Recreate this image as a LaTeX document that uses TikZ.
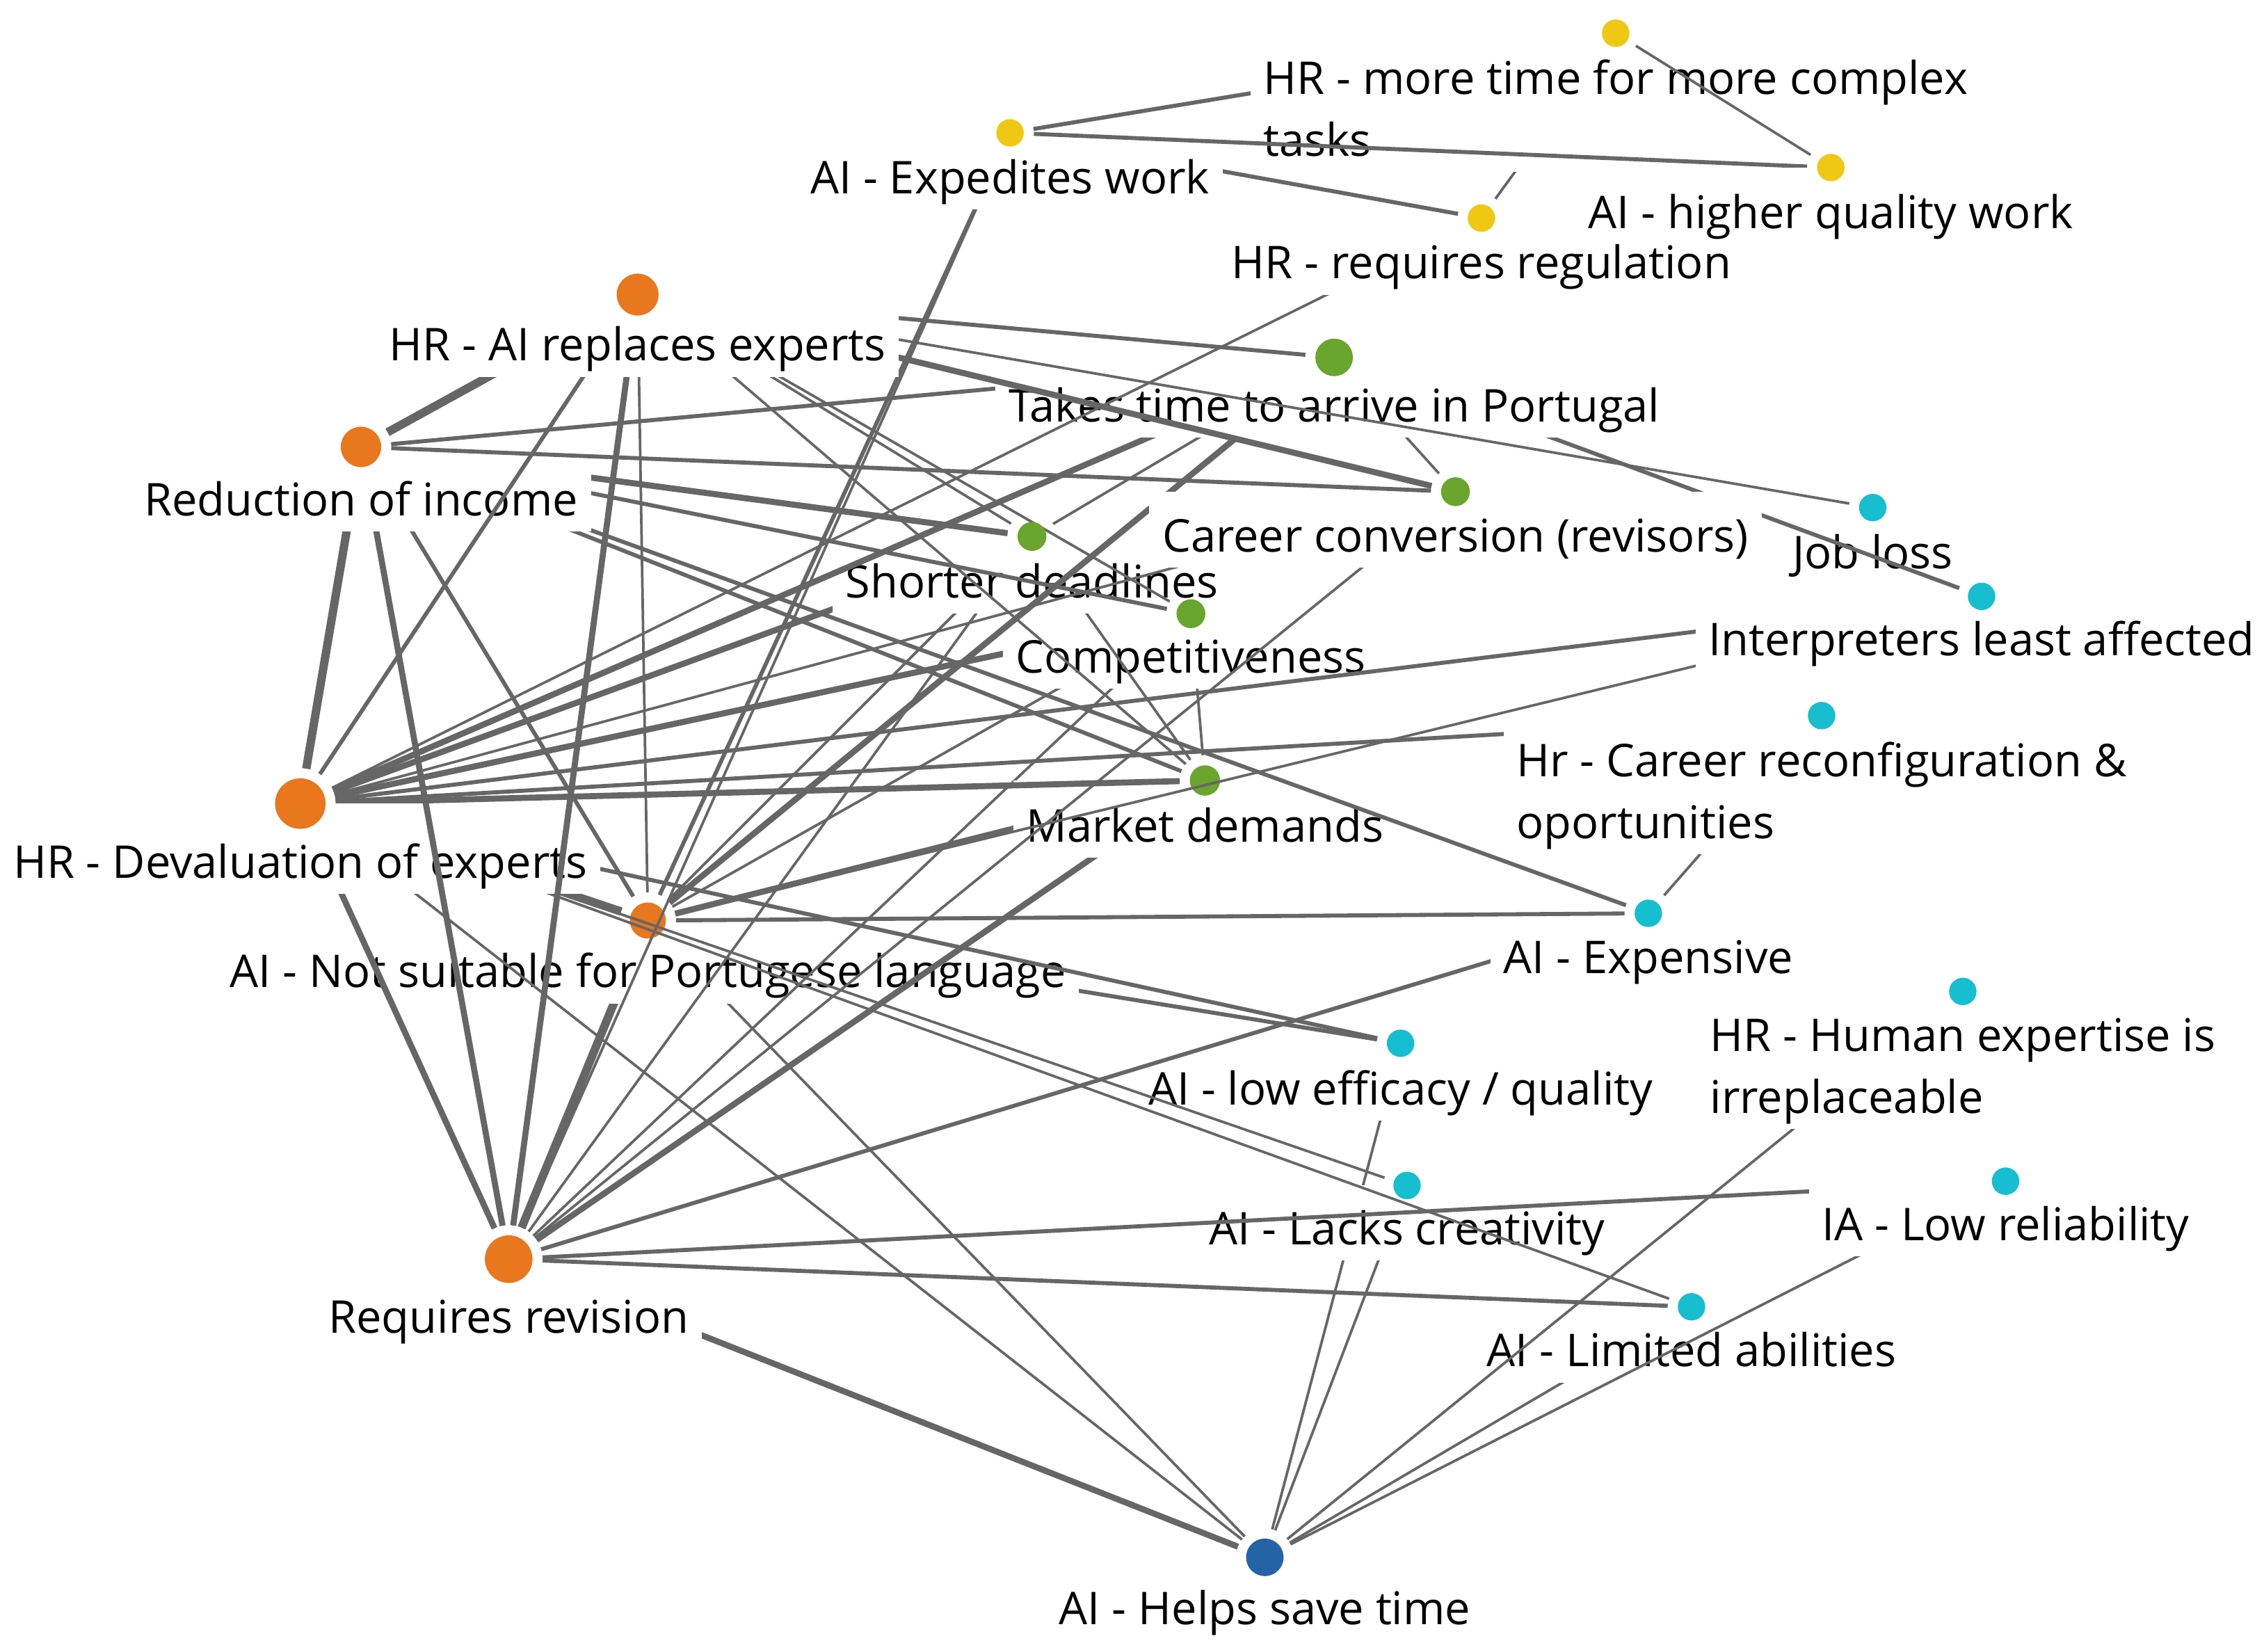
\documentclass[tikz,border=0pt]{standalone}
\usepackage{fontspec}
\setmainfont{Open Sans}
\definecolor{eg}{HTML}{666666}
\definecolor{cor}{HTML}{E8771E}
\definecolor{cgr}{HTML}{6AA52D}
\definecolor{cye}{HTML}{F0C814}
\definecolor{ccy}{HTML}{17BECF}
\definecolor{cbl}{HTML}{2463A5}
\newcommand\lblfont{\fontsize{8.9pt}{12.2pt}\selectfont}
\tikzset{
  nd/.style={circle, inner sep=0pt, outer sep=0.7mm, minimum size=#1},
  lnT/.style={draw=eg, line width=0.18mm},
  lnM/.style={draw=eg, line width=0.28mm},
  lnK/.style={draw=eg, line width=0.42mm},
  lnX/.style={draw=eg, line width=0.58mm},
  lbl/.style={fill=white, inner xsep=0.9mm, inner ysep=0pt, text height=#1, text depth=1.1mm, anchor=base, font=\lblfont},
  lblm/.style={fill=white, inner xsep=0.9mm, inner ysep=0pt, anchor=base, align=left, font=\lblfont}
}
\newcommand\dotY[1]{\fill[cye] (#1.center) circle[radius=0.95mm];}
\newcommand\dotG[2]{\fill[cgr] (#1.center) circle[radius=#2];}
\newcommand\dotO[2]{\fill[cor] (#1.center) circle[radius=#2];}
\newcommand\dotC[1]{\fill[ccy] (#1.center) circle[radius=0.95mm];}
\begin{document}
\begin{tikzpicture}[x=0.1mm,y=-0.1mm]
\fill[white] (0,0) rectangle (1568,1144);
\useasboundingbox (0,0) rectangle (1568,1144);
% node geometry
\node[nd=1.9mm] (Y1) at (699.5,92) {};
\node[nd=1.9mm] (Y2) at (1119,23) {};
\node[nd=1.9mm] (Y3) at (1268,116) {};
\node[nd=1.9mm] (Y4) at (1026,151) {};
\node[nd=2.6mm] (G1) at (924,247.5) {};
\node[nd=2.0mm] (G2) at (1008,340.5) {};
\node[nd=2.0mm] (G3) at (714.7,371.5) {};
\node[nd=2.0mm] (G4) at (824.8,425) {};
\node[nd=2.1mm] (G5) at (834.5,540.5) {};
\node[nd=2.9mm] (O1) at (441.6,204) {};
\node[nd=2.8mm] (O2) at (250,309.5) {};
\node[nd=3.5mm] (O3) at (208,556.5) {};
\node[nd=2.5mm] (O4) at (448.7,637.5) {};
\node[nd=3.3mm] (O5) at (352.3,872) {};
\node[nd=1.9mm] (C1) at (1297,351.5) {};
\node[nd=1.9mm] (C2) at (1372.4,413) {};
\node[nd=1.9mm] (C3) at (1261.6,495.6) {};
\node[nd=1.9mm] (C4) at (1141.6,632.5) {};
\node[nd=1.9mm] (C5) at (970,722.5) {};
\node[nd=1.9mm] (C6) at (1359.4,686.6) {};
\node[nd=1.9mm] (C7) at (974.5,821) {};
\node[nd=1.9mm] (C8) at (1389,818) {};
\node[nd=1.9mm] (C9) at (1171.5,905) {};
\node[nd=2.6mm] (B1) at (876,1078.5) {};
% ---- C1
\node[lbl=4.25mm] (C1l) at (1297,394) {Job loss};
% ---- under O4 label
\draw[lnX] (O4) -- (O5);
\draw[lnT] (O4) -- (B1);
\draw[lnM] (O4) -- (C5);
\draw[lnM] (Y1) -- (O4);
\draw[lnT] (O1) -- (O4);
\draw[lnX] (O3) -- (O4);
\draw[lnK] (O3) -- (G3);
\draw[lnK] (O3) -- (G4);
\node[lbl=4.65mm] (O4l) at (448.7,684) {AI - Not suitable for Portugese language}; \dotO{O4}{1.25mm}
% ---- under G4/G3/G5 labels
\draw[lnT] (O5) -- (G4);
\draw[lnT] (O5) -- (G3);
\draw[lnK] (O5) -- (G5);
\draw[lnT] (O4) -- (G4);
\draw[lnT] (O4) -- (G3);
\draw[lnK] (O4) -- (G5);
\draw[lnT] (G4) -- (G5);
\draw[lnT] (Y1) -- (O5);
\draw[lnK] (O3) -- (O5);
\draw[lnT] (O3) -- (B1);
\draw[lnM] (O3) -- (C5);
\node[lbl=4.1mm] (G4l) at (824.8,466) {Competitiveness};
\draw[lnT] (G3) -- (G5);
\node[lbl=4.25mm] (G3l) at (714.7,414) {Shorter deadlines};
\node[lbl=4.25mm] (G5l) at (834.5,583) {Market demands}; \dotG{G5}{1.05mm}
\draw[lnT] (C5) -- (B1);
\node[lbl=4.25mm] (C5l) at (970,765) {AI - low efficacy / quality};
% ---- middle layer
\draw[lnT] (O4) -- (C2);
\draw[lnT] (O5) -- (G2);
\draw[lnT] (O1) -- (G5);
\draw[lnK] (O4) -- (G1);
\draw[lnM] (O3) -- (C2);
\draw[lnM] (O3) -- (C3);
\draw[lnT] (C3) -- (C4);
\draw[lnM] (O5) -- (C4);
\draw[lnM] (O2) -- (C4);
\draw[lnT] (O3) -- (G2);
\draw[lnM] (O2) -- (G4);
\draw[lnK] (O3) -- (G5);
\node[lbl=4.1mm] (C2l) at (1372.4,454) {Interpreters least affected};
\node[lblm] (C3l) at (1261.6,580.5) {\rule{0pt}{4.35mm}Hr - Career reconfiguration \&\\oportunities\rule[-1.1mm]{0pt}{1.1mm}};
\node[lbl=4.15mm] (C4l) at (1141.6,674) {AI - Expensive};
\draw[lnM] (O4) -- (C4);
% ---- G1 group
\draw[lnM] (G1) -- (C2);
\draw[lnT] (G1) -- (G2);
\draw[lnK] (O3) -- (G1);
\draw[lnT] (G3) -- (G1);
\draw[lnM] (O2) -- (G1);
\node[lbl=4.45mm] (G1l) at (924,292) {Takes time to arrive in Portugal};
\draw[lnK] (O1) -- (G2);
\draw[lnT] (O1) -- (C1);
\draw[lnT] (Y4) -- (O3);
\node[lbl=4.15mm] (G2l) at (1008,382) {Career conversion (revisors)};
% ---- yellow group
\draw[lnM] (Y1) -- (Y2);
\draw[lnT] (Y2) -- (Y4);
\node[lblm] (Y2l) at (1119,108) {\rule{0pt}{4.2mm}HR - more time for more complex\\tasks\rule[-1.1mm]{0pt}{1.1mm}};
\draw[lnM] (Y1) -- (Y4);
\node[lbl=4.2mm] (Y4l) at (1026,193) {HR - requires regulation};
\node[lbl=4.2mm] (Y1l) at (699.5,134) {AI - Expedites work};
\draw[lnM] (Y1) -- (Y3);
\draw[lnT] (Y2) -- (Y3);
\node[lbl=4.2mm] (Y3l) at (1268,158) {AI - higher quality work};
% ---- cyan lower group
\draw[lnT] (C7) -- (B1);
\draw[lnT] (C9) -- (B1);
\node[lbl=4.1mm] (C7l) at (974.5,862) {AI - Lacks creativity};
\node[lbl=4.15mm] (C9l) at (1171.5,946.5) {AI - Limited abilities};
\draw[lnT] (O3) -- (C7);
\draw[lnT] (O3) -- (C9);
\draw[lnM] (O5) -- (C8);
\draw[lnT] (C6) -- (B1);
\draw[lnT] (C8) -- (B1);
\node[lblm] (C6l) at (1359.4,771) {\rule{0pt}{4.15mm}HR - Human expertise is\\irreplaceable\rule[-1.1mm]{0pt}{1.1mm}};
\node[lbl=4.3mm] (C8l) at (1389,859) {IA - Low reliability};
% ---- orange group
\node[lbl=5.15mm] (O3l) at (208,608) {HR - Devaluation of experts};
\draw[lnK] (O2) -- (O5);
\draw[lnK] (O1) -- (O5);
\draw[lnX] (O2) -- (O3);
\draw[lnM] (O2) -- (O4);
\draw[lnK] (O2) -- (G3);
\draw[lnM] (O2) -- (G5);
\node[lbl=4.75mm] (O2l) at (250,357) {Reduction of income};
\draw[lnM] (O2) -- (G2);
\draw[lnM] (O1) -- (O3);
\draw[lnX] (O1) -- (O2);
\draw[lnM] (O1) -- (G1);
\draw[lnT] (O1) -- (G3);
\draw[lnT] (O1) -- (G4);
\node[lbl=4.6mm] (O1l) at (441.6,250) {HR - AI replaces experts};
\draw[lnK] (O5) -- (B1);
\node[lbl=5.1mm] (O5l) at (352.3,923) {Requires revision};
\draw[lnM] (O5) -- (C9);
\node[lbl=4.65mm] (B1l) at (876,1125) {AI - Helps save time};
% ---- dots on top
\dotY{Y1} \dotY{Y2} \dotY{Y3} \dotY{Y4}
\dotG{G1}{1.3mm} \dotG{G2}{1.0mm} \dotG{G3}{1.0mm} \dotG{G4}{1.0mm}
\dotO{O1}{1.45mm} \dotO{O2}{1.4mm} \dotO{O3}{1.75mm} \dotO{O5}{1.65mm}
\dotC{C1} \dotC{C2} \dotC{C3} \dotC{C4} \dotC{C5} \dotC{C6} \dotC{C7} \dotC{C8} \dotC{C9}
\fill[cbl] (B1.center) circle[radius=1.3mm];
\end{tikzpicture}
\end{document}
